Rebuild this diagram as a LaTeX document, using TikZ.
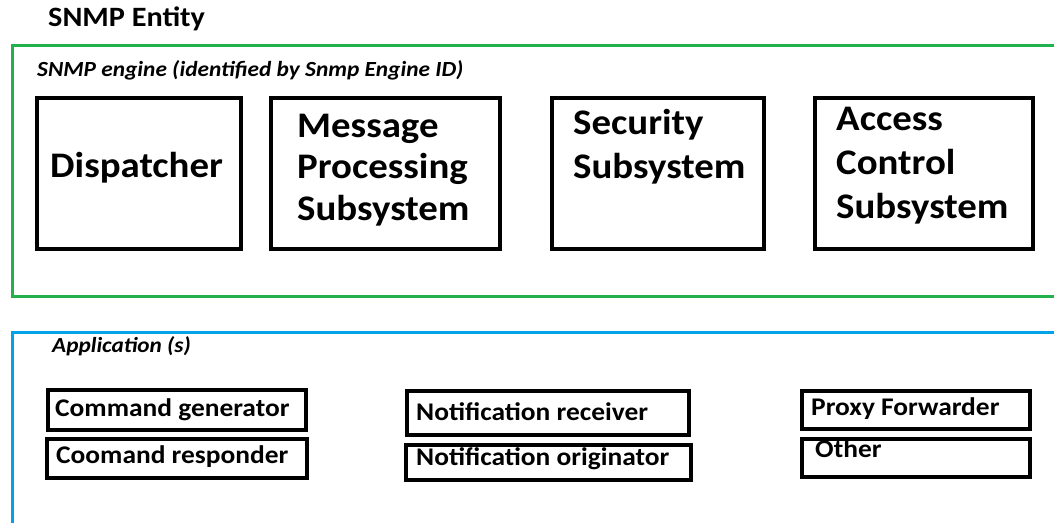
\documentclass[tikz,border=0pt]{standalone}
\usepackage{fontspec}
\setmainfont{Carlito}[FakeStretch=1.08]
\definecolor{paintgreen}{HTML}{22B14C}
\definecolor{paintblue}{HTML}{00A2E8}
\newcommand{\fsz}[1]{\fontsize{#1}{#1}\selectfont}
\begin{document}
\begin{tikzpicture}[x=1pt,y=-1pt,
  bigbox/.style={draw=black,line width=3.5pt,inner sep=0pt,anchor=north west},
  smallbox/.style={draw=black,line width=3.5pt,inner sep=0pt,anchor=north west},
  bigtxt/.style={anchor=base west,inner sep=0pt,font=\bfseries\fsz{36}},
  smalltxt/.style={anchor=base west,inner sep=0pt,font=\bfseries\fsz{25.4}},
  frame/.style={line width=3pt}]
\useasboundingbox (0,0) rectangle (1054,522);
\clip (0,0) rectangle (1054,522);
\fill[white] (0,0) rectangle (1054,522);
% frames
\draw[frame,paintgreen] (12.5,45) rectangle (1080,296);
\draw[frame,paintblue] (12.5,332) rectangle (1080,560);
% titles
\node[anchor=base west,inner sep=0pt,font=\bfseries\fsz{28}] (title) at (48,27) {SNMP Entity};
\node[anchor=base west,inner sep=0pt,font=\bfseries\itshape\fsz{21.6}] (engine) at (37,76) {SNMP engine (identified by Snmp Engine ID)};
\node[anchor=base west,inner sep=0pt,font=\bfseries\itshape\fsz{21.5}] (apps) at (52,352) {Application (s)};
% engine boxes
\node[bigbox,minimum width=204pt,minimum height=151pt] (disp) at (35,96) {};
\node[bigbox,minimum width=229pt,minimum height=151pt] (mps) at (269,96) {};
\node[bigbox,minimum width=212pt,minimum height=151pt] (sec) at (550,96) {};
\node[bigbox,minimum width=218pt,minimum height=151pt] (acs) at (813,96) {};
\node[bigtxt] (dispT) at (50,177) {Dispatcher};
\node[bigtxt] (mps1) at (297,137) {Message};
\node[bigtxt] (mps2) at (297,178) {Processing};
\node[bigtxt] (mps3) at (297,220) {Subsystem};
\node[bigtxt] (sec1) at (573,134) {Security};
\node[bigtxt] (sec2) at (573,178) {Subsystem};
\node[bigtxt] (acs1) at (836,130) {Access};
\node[bigtxt] (acs2) at (836,174) {Control};
\node[bigtxt] (acs3) at (836,218) {Subsystem};
% application boxes
\node[smallbox,minimum width=258pt,minimum height=40pt] (cg) at (46,388) {};
\node[smallbox,minimum width=260pt,minimum height=39pt] (cr) at (45,437) {};
\node[smallbox,minimum width=282pt,minimum height=44pt] (nr) at (405,389) {};
\node[smallbox,minimum width=285pt,minimum height=35pt] (no) at (404,443) {};
\node[smallbox,minimum width=228pt,minimum height=38pt] (pf) at (800,389) {};
\node[smallbox,minimum width=228pt,minimum height=38pt] (ot) at (800,437) {};
\node[smalltxt] (cgT) at (55,416) {Command generator};
\node[smalltxt] (crT) at (56,463) {Coomand responder};
\node[smalltxt] (nrT) at (416,420) {Notification receiver};
\node[smalltxt] (noT) at (416,465) {Notification originator};
\node[smalltxt] (pfT) at (811,415) {Proxy Forwarder};
\node[smalltxt] (otT) at (815,457) {Other};
\end{tikzpicture}
\end{document}
